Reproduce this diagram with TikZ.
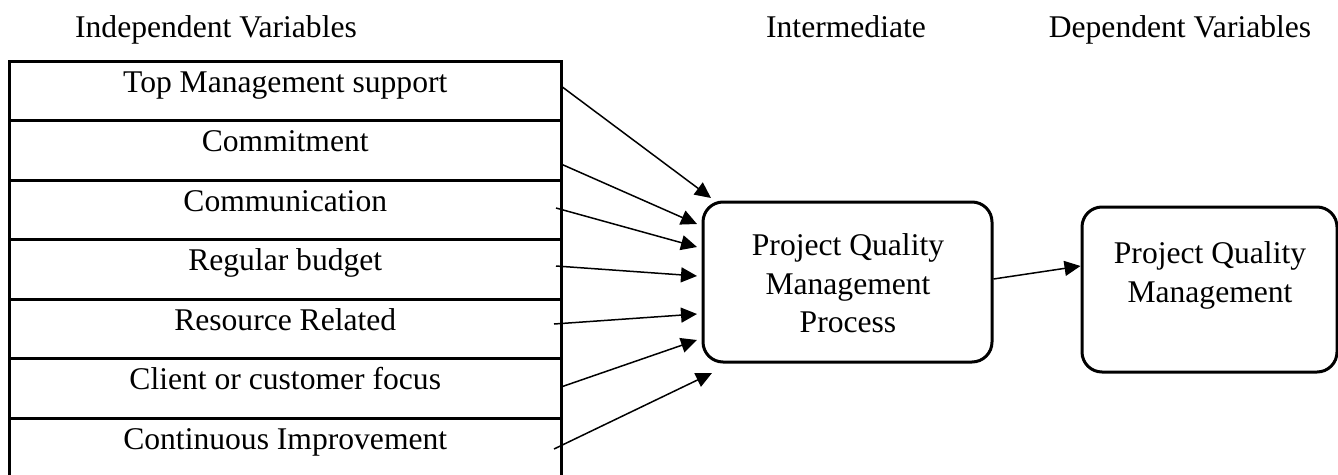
\documentclass[tikz,border=0pt]{standalone}
\usepackage{fontspec}
\setmainfont{Liberation Serif}
\usetikzlibrary{arrows.meta,calc}
\begin{document}
\begin{tikzpicture}[x=1pt,y=-1pt,
  rowbox/.style={draw,line width=3pt,minimum width=551.5pt,minimum height=59.5pt,inner sep=0pt},
  lbl/.style={font=\fontsize{31.6}{39}\selectfont,anchor=base,inner sep=0pt},
  rbox/.style={draw,line width=3pt,rounded corners=20pt,inner sep=0pt},
  conn/.style={line width=1.5pt,-{Triangle[length=16pt,width=15pt]}}]
\useasboundingbox (0,0) rectangle (1338,474);
% headers
\node[lbl] (h1) at (216,37) {Independent Variables};
\node[lbl] (h2) at (846,37) {Intermediate};
\node[lbl] (h3) at (1180,37) {Dependent Variables};
% left stack
\node[rowbox] (r1) at (285.25,90.75) {};
\node[rowbox] (r2) at (285.25,150.25) {};
\node[rowbox] (r3) at (285.25,209.75) {};
\node[rowbox] (r4) at (285.25,269.25) {};
\node[rowbox] (r5) at (285.25,328.75) {};
\node[rowbox] (r6) at (285.25,388.25) {};
\node[rowbox] (r7) at (285.25,447.75) {};
\node[lbl] (t1) at (285.25,92) {Top Management support};
\node[lbl] (t2) at (285.25,151.5) {Commitment};
\node[lbl] (t3) at (285.25,211) {Communication};
\node[lbl] (t4) at (285.25,270.5) {Regular budget};
\node[lbl] (t5) at (285.25,330) {Resource Related};
\node[lbl] (t6) at (285.25,389.5) {Client or customer focus};
\node[lbl] (t7) at (285.25,449) {Continuous Improvement};
% middle box
\node[rbox,minimum width=289pt,minimum height=160pt] (mid) at (847.5,282) {};
\node[lbl] (m1) at (848,255) {Project Quality};
\node[lbl] (m2) at (848,294) {Management};
\node[lbl] (m3) at (848,332) {Process};
% right box
\node[rbox,minimum width=255pt,minimum height=165pt] (dv) at (1209.5,289.5) {};
\node[lbl] (d1) at (1210,263) {Project Quality};
\node[lbl] (d2) at (1210,302) {Management};
% connector end points
\coordinate (s1) at (561,86);  \coordinate (e1) at (711,198);
\coordinate (s2) at (561,164); \coordinate (e2) at (697,224);
\coordinate (s3) at (556,208); \coordinate (e3) at (697,247);
\coordinate (s4) at (556,266); \coordinate (e4) at (697,276);
\coordinate (s5) at (554,324); \coordinate (e5) at (697,314);
\coordinate (s6) at (561,387); \coordinate (e6) at (697,340);
\coordinate (s7) at (554,449); \coordinate (e7) at (712,373);
\foreach \i in {1,...,7}{\draw[conn] (s\i) -- (e\i);}
\draw[conn] ($(mid.east)+(0,-3)$) -- ($(dv.west)+(0,-23.5)$);
\end{tikzpicture}
\end{document}
